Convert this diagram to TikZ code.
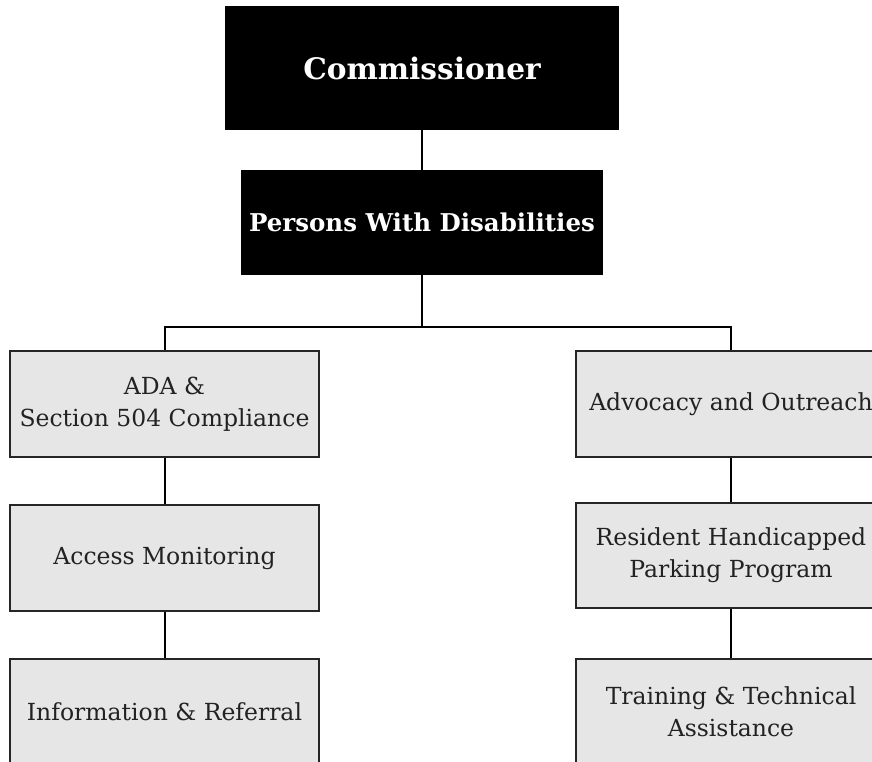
\documentclass[tikz,border=0pt]{standalone}
\usepackage{fontspec}
\setmainfont{DejaVu Serif}
\definecolor{boxfill}{HTML}{E6E6E6}
\definecolor{txt}{HTML}{222222}
\begin{document}
\begin{tikzpicture}[x=1pt,y=1pt,
  blackbox/.style={fill=black, draw=none, text=white, font=\bfseries, align=center, inner sep=0pt},
  graybox/.style={fill=boxfill, draw=black!85, line width=1.6pt, text=txt, align=center,
    minimum width=309pt, minimum height=106pt, inner sep=0pt,
    font=\fontsize{23.5}{32}\selectfont},
  conn/.style={draw=black, line width=2pt}]
\useasboundingbox (0,0) rectangle (872,-762);
\node[blackbox, minimum width=394pt, minimum height=124pt, font=\fontsize{29.6}{36}\selectfont\bfseries] (comm) at (422,-68) {Commissioner};
\node[blackbox, minimum width=362pt, minimum height=105pt, font=\fontsize{24.5}{30}\selectfont\bfseries] (pwd) at (422,-222.5) {Persons With Disabilities};
\node[graybox] (l1) at (164.5,-404) {ADA \&\\Section 504 Compliance};
\node[graybox] (l2) at (164.5,-558) {Access Monitoring};
\node[graybox] (l3) at (164.5,-712) {Information \& Referral};
\node[graybox, minimum width=310pt] (r1) at (731,-404) {Advocacy and Outreach};
\node[graybox, minimum width=310pt, minimum height=105pt] (r2) at (731,-555.5) {Resident Handicapped\\Parking Program};
\node[graybox, minimum width=310pt] (r3) at (731,-712) {Training \& Technical\\Assistance};
\draw[conn] (comm.south) -- (pwd.north);
\draw[conn] (pwd.south) -- ++(0,-52) -| (l1.north);
\draw[conn] (pwd.south) -- ++(0,-52) -| (r1.north);
\draw[conn] (l1.south) -- (l2.north);
\draw[conn] (l2.south) -- (l3.north);
\draw[conn] (r1.south) -- (r2.north);
\draw[conn] (r2.south) -- (r3.north);
\end{tikzpicture}
\end{document}
